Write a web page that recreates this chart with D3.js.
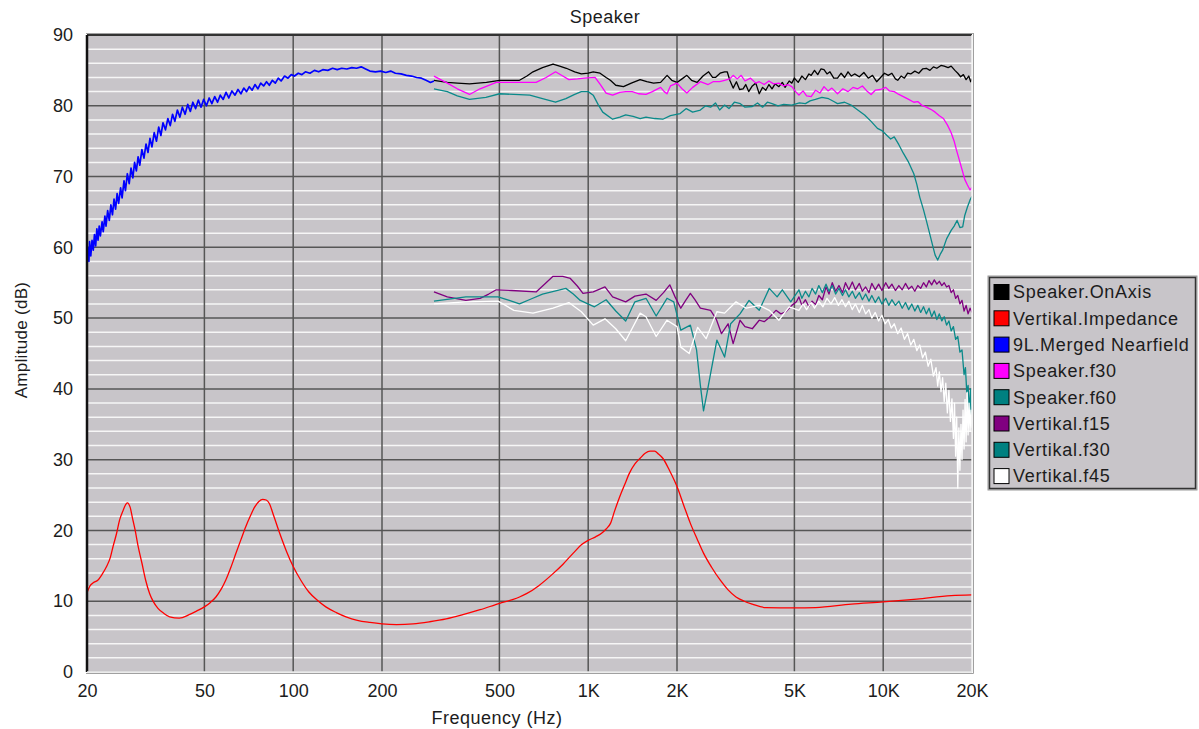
<!DOCTYPE html>
<html>
<head>
<meta charset="utf-8">
<script src="https://cdn.jsdelivr.net/npm/d3@7"></script>
<style>
  body { margin: 0; background: #fff; }
  text { font-family: "Liberation Sans", Arial, sans-serif; fill: #1c1c1c; }
</style>
</head>
<body>
<svg id="chart" width="1199" height="729"></svg>
<script>
// axis ticks
const xTicks = [20, 50, 100, 200, 500, 1000, 2000, 5000, 10000, 20000];
const xTickLabels = ["20", "50", "100", "200", "500", "1K", "2K", "5K", "10K", "20K"];
const yTicks = [0, 10, 20, 30, 40, 50, 60, 70, 80, 90];

const seriesNames = ["Speaker.OnAxis", "Vertikal.Impedance", "9L.Merged Nearfield", "Speaker.f30",
  "Speaker.f60", "Vertikal.f15", "Vertikal.f30", "Vertikal.f45"];
const seriesColors = ["#000000", "#ff0000", "#0000ff", "#ff00ff", "#008080", "#800080", "#008080", "#ffffff"];

// [frequency Hz, dB]
const onAxis = [[300,83.6],[333,83.3],[360,83.2],[396,83.1],[452,83.3],[501,83.6],[585,83.6],[620,84.2],[650,84.8],[700,85.4],[760,85.9],[800,85.6],[843,85.3],[900,84.8],[948,84.5],[1000,84.6],[1040,84.8],[1097,84.6],[1150,84.0],[1189,83.6],[1240,82.9],[1317,82.7],[1400,83.2],[1500,83.7],[1580,83.4],[1666,83.2],[1760,83.3],[1851,84.3],[1920,83.6],[2000,83.3],[2080,83.8],[2160,84.3],[2240,83.6],[2340,83.3],[2450,84.2],[2560,84.8],[2640,84.0],[2700,84.0],[2800,84.6],[2900,84.8],[2960,84.8],[3020,83.6],[3100,82.5],[3180,83.4],[3260,82.3],[3350,82.4],[3420,83.0],[3500,82.0],[3600,82.8],[3700,83.2],[3800,81.7],[3900,82.6],[4000,82.2],[4100,83.0],[4200,82.4],[4300,83.1],[4430,82.7],[4550,83.3],[4650,82.6],[4800,83.5],[4900,83.2],[5000,83.9],[5150,83.3],[5300,84.2],[5450,83.7],[5600,84.5],[5700,84.3],[5850,85.0],[6000,84.4],[6150,85.2],[6300,85.1],[6450,84.5],[6600,84.8],[6800,83.9],[7000,83.9],[7200,84.6],[7400,84.0],[7600,84.8],[7800,84.2],[8000,84.5],[8300,84.1],[8600,84.7],[8900,83.9],[9200,84.3],[9500,83.4],[9800,84.0],[10100,84.6],[10400,84.3],[10700,84.6],[11000,83.8],[11200,83.6],[11500,84.2],[11800,83.9],[12100,84.6],[12400,84.5],[12800,84.9],[13200,84.6],[13600,85.2],[14000,85.3],[14400,85.0],[14800,85.5],[15200,85.3],[15700,85.7],[16100,85.6],[16600,85.4],[17000,85.6],[17500,85.0],[17900,84.6],[18300,84.1],[18700,84.4],[19100,83.7],[19500,84.2],[19800,83.4],[20000,83.8]];

const impedance = [[20,11.2],[20.5,12.2],[21,12.6],[21.8,13.0],[22.5,13.8],[23.3,14.9],[24.0,16.2],[24.5,17.7],[25.2,19.6],[25.8,21.5],[26.5,22.8],[27.0,23.6],[27.4,23.9],[28.0,23.3],[28.5,21.8],[29.1,20.1],[29.8,17.8],[30.7,15.4],[31.6,13.0],[32.6,11.1],[33.6,9.9],[34.8,9.0],[36.4,8.3],[38.1,7.8],[41.1,7.6],[44.4,8.1],[47,8.6],[50,9.2],[52.3,9.8],[54.7,10.6],[57,11.7],[59.1,13.0],[61.5,14.8],[64,16.8],[66.5,18.7],[69,20.5],[71.5,22.0],[74,23.3],[76.5,24.1],[78.8,24.4],[81,24.3],[83,23.8],[86,22.0],[90,19.6],[95,17.0],[100,14.9],[106,13.0],[113,11.3],[121,10.1],[129,9.2],[140,8.4],[151,7.8],[165,7.3],[182,7.0],[200,6.8],[224,6.7],[255,6.8],[290,7.1],[330,7.5],[376,8.1],[430,8.8],[501,9.7],[550,10.2],[585,10.6],[620,11.1],[680,12.2],[760,13.9],[820,15.2],[890,16.8],[950,18.0],[1000,18.6],[1060,19.1],[1110,19.6],[1150,20.2],[1190,21.0],[1230,22.8],[1280,24.8],[1330,26.5],[1380,28.1],[1440,29.4],[1500,30.2],[1560,30.9],[1620,31.2],[1680,31.2],[1730,30.8],[1790,30.2],[1890,28.4],[2000,26.2],[2110,23.5],[2220,21.0],[2340,18.8],[2460,16.8],[2620,14.8],[2800,13.0],[2980,11.6],[3170,10.6],[3380,10.0],[3600,9.6],[4000,9.1],[5000,9.05],[5900,9.1],[7800,9.6],[10000,9.9],[13000,10.3],[17000,10.8],[20000,10.9]];

const nearfield = [[20,57.4],[20.1,60.0],[20.3,58.0],[20.4,60.8],[20.6,58.8],[20.8,61.0],[21.0,59.6],[21.2,61.8],[21.4,60.2],[21.6,62.6],[21.8,61.0],[22.0,63.0],[22.2,61.6],[22.5,63.6],[22.7,62.2],[23.0,64.4],[23.2,63.0],[23.5,65.2],[23.8,63.8],[24.1,66.0],[24.4,64.6],[24.7,66.8],[25.0,65.4],[25.3,67.6],[25.6,66.2],[26.0,68.4],[26.3,67.0],[26.7,69.4],[27.0,68.0],[27.4,70.4],[27.8,69.0],[28.2,71.2],[28.6,69.8],[29.0,72.0],[29.4,70.8],[29.8,72.8],[30.2,71.6],[30.7,73.8],[31.2,72.6],[31.7,74.6],[32.2,73.4],[32.7,75.4],[33.2,74.2],[33.8,76.2],[34.4,75.0],[35.0,77.0],[35.6,75.8],[36.2,77.6],[36.9,76.6],[37.6,78.2],[38.3,77.2],[39.0,78.8],[39.7,77.8],[40.5,79.4],[41.3,78.4],[42.1,79.8],[43.0,78.8],[43.9,80.2],[44.8,79.2],[45.7,80.5],[46.7,79.6],[47.7,80.8],[48.7,79.8],[49.7,80.9],[50.8,80.0],[51.9,81.1],[53.0,80.3],[54.2,81.3],[55.4,80.5],[56.6,81.5],[57.9,80.9],[59.2,81.9],[60.5,81.1],[62.0,82.1],[63.5,81.5],[65.0,82.3],[66.5,81.7],[68.0,82.5],[69.5,82.0],[71.0,82.7],[72.6,82.2],[74.2,83.0],[75.9,82.4],[77.6,83.2],[79.4,82.8],[81.2,83.4],[83.0,82.9],[85.0,83.6],[87.0,83.2],[89.0,83.9],[91.0,83.5],[93.5,84.2],[96.0,83.9],[98.5,84.4],[101,84.2],[104,84.6],[107,84.4],[110,84.8],[114,84.6],[118,85.0],[122,84.8],[126,85.1],[131,85.0],[136,85.3],[141,85.1],[146,85.3],[152,85.2],[158,85.4],[164,85.3],[170,85.5],[176,85.2],[182,84.9],[190,84.8],[198,84.9],[206,84.7],[214,84.9],[222,84.6],[232,84.5],[242,84.3],[252,84.2],[262,84.0],[272,83.9],[282,83.6],[292,83.3],[300,83.5]];

const speakerF30 = [[300,84.2],[333,83.2],[360,82.4],[396,81.6],[430,82.4],[488,83.3],[550,83.3],[666,83.3],[720,84.0],[775,84.8],[820,84.2],[860,83.7],[920,83.8],[970,83.9],[1055,84.0],[1100,83.0],[1150,81.8],[1210,81.5],[1280,81.9],[1340,82.0],[1410,82.0],[1480,81.7],[1570,81.6],[1650,82.0],[1760,82.6],[1810,82.0],[1850,81.7],[1900,82.8],[2000,83.2],[2080,82.4],[2160,81.8],[2260,82.6],[2400,83.4],[2550,83.0],[2650,83.4],[2790,83.4],[2900,83.6],[3020,83.8],[3100,84.3],[3200,83.8],[3300,84.3],[3400,83.5],[3550,83.9],[3700,83.2],[3800,83.4],[3950,83.0],[4100,83.5],[4250,83.1],[4430,83.2],[4600,82.8],[4750,83.0],[4900,82.7],[5050,82.0],[5180,81.5],[5350,82.1],[5500,81.4],[5700,81.3],[5900,82.2],[6100,81.8],[6300,82.7],[6500,82.1],[6700,82.5],[7000,81.7],[7300,82.4],[7600,82.0],[7900,82.6],[8200,82.4],[8500,82.8],[8800,82.1],[9100,81.6],[9400,82.2],[9800,82.3],[10200,82.6],[10500,82.1],[10900,82.0],[11300,81.6],[11700,81.3],[12200,80.9],[12700,80.5],[13100,80.6],[13500,80.1],[14000,79.8],[14500,79.5],[15000,79.1],[15500,78.6],[16000,78.2],[16500,77.3],[17000,76.2],[17400,75.0],[17700,73.8],[18100,72.4],[18500,71.0],[18900,69.6],[19300,68.8],[19700,68.1],[20000,68.5]];

const speakerF60 = [[300,82.4],[333,82.0],[360,81.4],[396,80.9],[450,81.2],[501,81.7],[560,81.6],[634,81.5],[700,81.0],[775,80.5],[840,81.0],[900,81.6],[948,82.0],[1000,82.0],[1040,81.5],[1080,80.2],[1120,79.1],[1210,78.1],[1280,78.4],[1340,78.7],[1420,78.5],[1500,78.2],[1570,78.4],[1680,78.2],[1790,78.1],[1900,78.6],[2050,78.9],[2150,79.6],[2260,79.1],[2400,79.4],[2500,80.0],[2600,79.8],[2700,80.4],[2790,79.4],[2900,80.1],[3000,79.6],[3130,80.5],[3280,80.3],[3400,79.8],[3600,79.9],[3750,80.4],[3900,79.8],[4050,80.5],[4200,80.3],[4400,80.0],[4600,80.2],[4900,80.1],[5200,80.4],[5450,80.3],[5650,80.7],[5890,80.9],[6200,81.2],[6530,81.0],[6800,80.6],[7000,80.3],[7400,80.5],[7780,80.1],[8200,79.4],[8650,78.7],[9100,77.8],[9560,76.8],[9900,76.5],[10300,75.8],[10600,75.3],[10900,75.6],[11300,74.5],[11700,73.3],[12200,72.0],[12700,70.4],[13000,68.9],[13300,67.1],[13700,65.3],[14000,63.8],[14400,61.8],[14700,60.3],[15000,58.9],[15300,58.2],[15600,59.0],[15900,59.6],[16400,61.2],[17000,62.4],[17400,63.0],[17800,63.8],[18200,62.8],[18600,62.9],[18900,64.5],[19300,65.7],[19700,66.7],[20000,67.2]];

const vertF15 = [[300,53.7],[333,53.0],[385,52.5],[430,52.8],[460,53.4],[488,54.0],[550,53.9],[666,53.7],[720,55.0],[760,55.9],[820,55.9],[870,55.6],[920,54.5],[960,53.5],[1040,53.7],[1140,54.4],[1210,53.0],[1340,52.3],[1440,53.1],[1570,53.4],[1700,52.5],[1800,53.6],[1890,54.7],[1970,53.0],[2060,51.4],[2140,52.5],[2220,53.5],[2300,52.6],[2400,51.4],[2600,51.1],[2720,49.8],[2830,47.8],[2980,49.2],[3100,46.4],[3270,49.7],[3400,48.8],[3600,48.5],[3800,49.7],[3950,49.5],[4110,50.1],[4330,51.1],[4500,50.6],[4680,50.9],[4900,51.8],[5080,52.3],[5180,53.0],[5300,51.8],[5450,52.6],[5600,51.6],[5740,52.4],[5900,51.9],[6050,53.2],[6220,52.6],[6400,54.4],[6550,53.4],[6720,55.0],[6900,53.8],[7080,54.6],[7280,53.6],[7450,55.0],[7650,54.0],[7860,55.1],[8050,54.0],[8300,54.9],[8500,53.8],[8720,54.4],[8950,53.6],[9150,54.9],[9400,54.0],[9650,54.8],[9900,53.9],[10200,55.0],[10450,54.2],[10700,54.8],[11000,53.9],[11300,54.6],[11600,54.0],[11900,54.9],[12200,54.1],[12500,54.5],[12800,53.8],[13100,54.6],[13400,54.2],[13700,55.0],[14000,54.4],[14300,55.3],[14600,54.7],[14900,55.4],[15200,54.8],[15500,55.2],[15800,54.6],[16100,55.0],[16400,54.4],[16700,54.6],[17000,53.6],[17300,54.0],[17600,52.8],[17900,53.2],[18200,52.0],[18500,52.5],[18800,51.0],[19100,51.8],[19400,50.6],[19700,51.4],[20000,50.8]];

const vertF30 = [[300,52.4],[385,53.0],[495,53.0],[540,52.5],[585,52.0],[640,52.7],[700,53.4],[770,53.8],[840,54.2],[890,53.4],[940,52.5],[1050,51.6],[1150,52.6],[1240,51.0],[1340,49.6],[1440,52.3],[1570,52.8],[1700,50.3],[1850,52.8],[1950,52.3],[2060,48.3],[2220,49.0],[2330,45.5],[2400,40.5],[2460,36.9],[2530,39.5],[2600,42.2],[2730,46.9],[2900,44.5],[3040,49.2],[3270,50.6],[3510,52.5],[3800,51.1],[4110,54.2],[4370,53.0],[4550,54.0],[4860,52.3],[5180,54.0],[5300,52.8],[5450,53.8],[5600,53.0],[5740,54.2],[5900,53.4],[6050,54.6],[6220,53.6],[6400,54.8],[6550,53.8],[6720,54.6],[6900,53.4],[7080,54.2],[7280,53.2],[7450,54.0],[7650,53.0],[7860,53.8],[8050,52.8],[8300,53.6],[8500,52.6],[8720,53.4],[8950,52.4],[9150,53.2],[9400,52.2],[9650,53.0],[9900,52.0],[10200,52.8],[10450,51.8],[10700,52.6],[11000,51.8],[11300,52.4],[11600,51.4],[11900,52.2],[12200,51.2],[12500,52.0],[12800,51.0],[13100,51.8],[13400,50.8],[13700,51.6],[14000,50.6],[14300,51.4],[14600,50.2],[14900,51.0],[15200,49.8],[15500,50.6],[15800,49.6],[16100,50.2],[16400,49.0],[16700,49.6],[17000,48.2],[17300,48.8],[17600,47.0],[17900,47.4],[18200,45.2],[18500,45.5],[18800,42.0],[19000,43.0],[19200,39.5],[19400,40.5],[19600,37.0],[19800,40.0],[19900,35.5],[20000,37.5]];

const vertF45 = [[300,52.0],[385,52.3],[495,52.4],[560,51.1],[650,50.7],[760,51.4],[860,52.2],[948,50.9],[1040,49.0],[1140,49.9],[1240,48.5],[1340,46.8],[1500,50.7],[1570,50.2],[1700,47.4],[1850,49.7],[2000,48.8],[2060,45.9],[2200,45.0],[2350,48.7],[2510,47.1],[2730,50.9],[2900,50.7],[3170,52.3],[3430,51.4],[3800,51.8],[4110,51.1],[4430,49.7],[4800,51.6],[5180,51.1],[5350,52.0],[5500,51.2],[5700,52.2],[5850,51.4],[6050,52.4],[6250,51.6],[6450,52.8],[6650,52.0],[6850,52.9],[7050,51.8],[7250,52.6],[7450,51.6],[7650,52.4],[7850,51.2],[8050,52.0],[8300,50.8],[8500,51.8],[8720,50.6],[8950,51.2],[9150,50.0],[9400,50.8],[9650,49.6],[9900,50.4],[10150,49.2],[10400,49.8],[10650,48.6],[10900,49.2],[11200,47.8],[11500,48.6],[11800,47.0],[12100,47.8],[12400,46.2],[12700,47.0],[13000,45.4],[13300,46.2],[13600,44.4],[13900,45.2],[14200,43.2],[14500,44.2],[14800,41.8],[15100,43.0],[15300,40.4],[15500,42.4],[15700,39.6],[15900,41.6],[16100,38.2],[16300,40.8],[16500,36.6],[16700,39.8],[16900,35.4],[17100,38.6],[17300,33.0],[17450,38.0],[17600,30.5],[17750,36.0],[17900,26.0],[18050,34.5],[18200,28.5],[18350,35.0],[18500,30.0],[18650,37.0],[18800,31.5],[18950,38.5],[19100,32.5],[19250,39.5],[19400,33.5],[19550,38.0],[19700,34.0],[19850,37.0],[20000,34.5]];

const allSeries = [onAxis, impedance, nearfield, speakerF30, speakerF60, vertF15, vertF30, vertF45];

const plot = { left: 87, right: 972, top: 35, bottom: 672 };
const svg = d3.select("#chart");

const x = d3.scaleLog().domain([20, 20000]).range([plot.left, plot.right]);
const y = d3.scaleLinear().domain([0, 90]).range([plot.bottom, plot.top]);

// plot background
svg.append("rect")
  .attr("x", plot.left).attr("y", plot.top)
  .attr("width", plot.right - plot.left).attr("height", plot.bottom - plot.top)
  .attr("fill", "#c8c5c9");

// minor gridlines every 2 dB (white)
const minor = d3.range(2, 90, 2).filter(d => d % 10 !== 0);
svg.append("g").selectAll("line").data(minor).enter().append("line")
  .attr("x1", plot.left).attr("x2", plot.right)
  .attr("y1", d => y(d)).attr("y2", d => y(d))
  .attr("stroke", "#f6f6f6").attr("stroke-width", 1.5);

// major gridlines
svg.append("g").selectAll("line").data(yTicks.slice(1, -1)).enter().append("line")
  .attr("x1", plot.left).attr("x2", plot.right)
  .attr("y1", d => y(d)).attr("y2", d => y(d))
  .attr("stroke", "#565656").attr("stroke-width", 1.5);

svg.append("g").selectAll("line").data(xTicks.slice(1, -1)).enter().append("line")
  .attr("x1", d => x(d)).attr("x2", d => x(d))
  .attr("y1", plot.top).attr("y2", plot.bottom)
  .attr("stroke", "#565656").attr("stroke-width", 1.5);

// traces
svg.append("clipPath").attr("id", "clip").append("rect")
  .attr("x", plot.left).attr("y", plot.top)
  .attr("width", plot.right - plot.left).attr("height", plot.bottom - plot.top);

const line = d3.line().x(d => x(d[0])).y(d => y(d[1]));
const smooth = d3.line().x(d => x(d[0])).y(d => y(d[1])).curve(d3.curveMonotoneX);

const traces = svg.append("g").attr("clip-path", "url(#clip)");
allSeries.forEach((s, i) => {
  traces.append("path")
    .datum(s)
    .attr("d", i === 1 ? smooth : line)
    .attr("fill", "none")
    .attr("stroke", seriesColors[i] === "#008080" ? "#0b8a8a" : seriesColors[i])
    .attr("stroke-width", i === 2 ? 1.7 : 1.3)
    .attr("stroke-linejoin", "round");
});

// frame (sunken look)
svg.append("line").attr("x1", plot.left - 1).attr("x2", plot.right + 1).attr("y1", plot.top - 1.5).attr("y2", plot.top - 1.5)
  .attr("stroke", "#a0a0a0").attr("stroke-width", 1);
svg.append("line").attr("x1", plot.left).attr("x2", plot.right).attr("y1", plot.top).attr("y2", plot.top)
  .attr("stroke", "#333").attr("stroke-width", 2);
svg.append("line").attr("x1", plot.left).attr("x2", plot.left).attr("y1", plot.top).attr("y2", plot.bottom)
  .attr("stroke", "#111").attr("stroke-width", 2.5);
svg.append("line").attr("x1", plot.right).attr("x2", plot.right).attr("y1", plot.top).attr("y2", plot.bottom)
  .attr("stroke", "#f2f2f2").attr("stroke-width", 1.5);
svg.append("line").attr("x1", plot.right + 1.5).attr("x2", plot.right + 1.5).attr("y1", plot.top - 2).attr("y2", plot.bottom + 1.5)
  .attr("stroke", "#a0a0a0").attr("stroke-width", 1);
svg.append("line").attr("x1", plot.left).attr("x2", plot.right).attr("y1", plot.bottom).attr("y2", plot.bottom)
  .attr("stroke", "#e6e6e6").attr("stroke-width", 1.5);
svg.append("line").attr("x1", plot.left - 1).attr("x2", plot.right + 1.5).attr("y1", plot.bottom + 1.5).attr("y2", plot.bottom + 1.5)
  .attr("stroke", "#a0a0a0").attr("stroke-width", 1);

// axes (labels only)
const yAxis = d3.axisLeft(y).tickValues(yTicks).tickSize(0).tickPadding(14);
const gy = svg.append("g").attr("transform", `translate(${plot.left},0)`).call(yAxis);
gy.select(".domain").remove();
gy.selectAll("text").style("font-size", "18px").style("font-family", null).attr("fill", "#1c1c1c");

const xAxis = d3.axisBottom(x).tickValues(xTicks).tickSize(0).tickPadding(12)
  .tickFormat((d, i) => xTickLabels[i]);
const gx = svg.append("g").attr("transform", `translate(0,${plot.bottom})`).call(xAxis);
gx.select(".domain").remove();
gx.selectAll("text").style("font-size", "18px").style("font-family", null).attr("fill", "#1c1c1c");

// titles
svg.append("text").attr("x", 605).attr("y", 23).attr("text-anchor", "middle")
  .style("font-size", "18px").style("letter-spacing", "0.5px").text("Speaker");
svg.append("text").attr("x", 497).attr("y", 724).attr("text-anchor", "middle")
  .style("font-size", "18px").style("letter-spacing", "0.5px").text("Frequency (Hz)");
svg.append("text").attr("transform", "translate(27,340) rotate(-90)").attr("text-anchor", "middle")
  .style("font-size", "17px").style("letter-spacing", "0.3px").text("Amplitude (dB)");

// legend
const legend = svg.append("g").attr("transform", "translate(988,276)");
legend.append("rect").attr("width", 209).attr("height", 214)
  .attr("fill", "#c8c5c9").attr("stroke", "#9a9a9a").attr("stroke-width", 1);
legend.append("rect").attr("x", 1.5).attr("y", 1.5).attr("width", 206).attr("height", 211)
  .attr("fill", "none").attr("stroke", "#333").attr("stroke-width", 1.5);

const rows = legend.selectAll("g.row").data(seriesNames).enter().append("g")
  .attr("class", "row")
  .attr("transform", (d, i) => `translate(0,${16 + i * 26.3})`);
rows.append("rect").attr("x", 6).attr("y", -7.5).attr("width", 15).attr("height", 15)
  .attr("fill", (d, i) => seriesColors[i]).attr("stroke", "#000").attr("stroke-width", 1);
rows.append("text").attr("x", 25).attr("dy", "0.35em")
  .style("font-size", "18px").style("letter-spacing", "0.7px").text(d => d);
</script>
</body>
</html>
